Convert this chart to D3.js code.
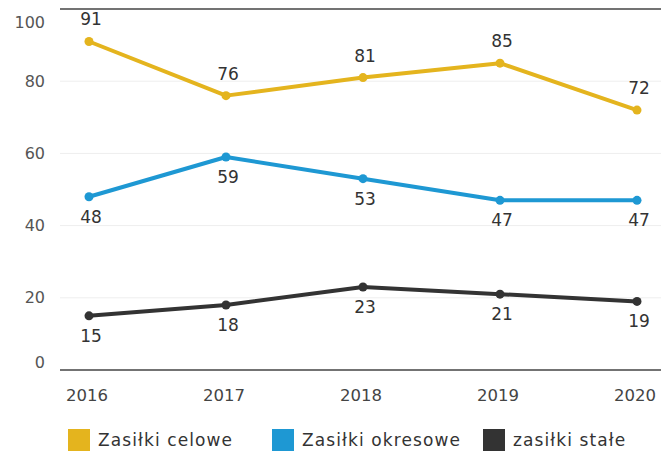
<!DOCTYPE html>
<html>
<head>
<meta charset="utf-8">
<script src="https://cdn.jsdelivr.net/npm/d3@7"></script>
<style>
  body { margin: 0; background: #fff; }
  text { font-family: "DejaVu Sans", sans-serif; }
</style>
</head>
<body>
<div class="chart"></div>
<script>
var years = ["2016", "2017", "2018", "2019", "2020"];
var celowe = [91, 76, 81, 85, 72];
var okresowe = [48, 59, 53, 47, 47];
var stale = [15, 18, 23, 21, 19];
var yTicks = [0, 20, 40, 60, 80, 100];

var seriesNames = ["Zasiłki celowe", "Zasiłki okresowe", "zasiłki stałe"];
var colors = ["#e4b41e", "#1e98d3", "#333333"];

var svgWidth = 661;
var svgHeight = 452;

var svg = d3.select(".chart")
  .append("svg")
  .attr("width", svgWidth)
  .attr("height", svgHeight);

var x = d3.scalePoint()
  .domain(years)
  .range([89, 637]);

var y = d3.scaleLinear()
  .domain([0, 100])
  .range([370, 9]);

// gridlines
svg.append("g")
  .selectAll("line")
  .data(yTicks)
  .enter().append("line")
  .attr("x1", 60)
  .attr("x2", svgWidth)
  .attr("y1", d => y(d))
  .attr("y2", d => y(d))
  .attr("stroke", d => (d === 0 || d === 100) ? "#444" : "#eeeeee")
  .attr("stroke-width", d => (d === 0 || d === 100) ? 1.5 : 1);

// y tick labels
svg.append("g")
  .selectAll("text")
  .data(yTicks)
  .enter().append("text")
  .attr("x", 45)
  .attr("y", d => y(d) + (d === 100 ? 13 : d === 0 ? -8 : 0))
  .attr("dy", "0.35em")
  .attr("text-anchor", "end")
  .attr("font-size", 16)
  .attr("fill", "#555")
  .text(d => d);

// x tick labels
svg.append("g")
  .selectAll("text")
  .data(years)
  .enter().append("text")
  .attr("x", d => x(d) - 2)
  .attr("y", 395)
  .attr("dy", "0.35em")
  .attr("text-anchor", "middle")
  .attr("font-size", 16.5)
  .attr("fill", "#444")
  .text(d => d);

var series = [
  { values: celowe, color: colors[0], above: [true, true, true, true, true] },
  { values: okresowe, color: colors[1], above: [false, false, false, false, false] },
  { values: stale, color: colors[2], above: [false, false, false, false, false] }
];

var line = d3.line()
  .x((d, i) => x(years[i]))
  .y(d => y(d));

series.forEach(function(s) {
  svg.append("path")
    .attr("d", line(s.values))
    .attr("fill", "none")
    .attr("stroke", s.color)
    .attr("stroke-width", 4)
    .attr("stroke-linejoin", "round");

  svg.append("g")
    .selectAll("circle")
    .data(s.values)
    .enter().append("circle")
    .attr("cx", (d, i) => x(years[i]))
    .attr("cy", d => y(d))
    .attr("r", 4.5)
    .attr("fill", s.color);

  svg.append("g")
    .selectAll("text")
    .data(s.values)
    .enter().append("text")
    .attr("x", (d, i) => x(years[i]) + 2)
    .attr("y", (d, i) => y(d) + (s.above[i] ? -22 : 20))
    .attr("dy", "0.35em")
    .attr("text-anchor", "middle")
    .attr("font-size", 17)
    .attr("fill", "#333")
    .text(d => d);
});

// legend
var legendX = [68, 272, 483];
var legend = svg.append("g")
  .selectAll("g")
  .data(seriesNames)
  .enter().append("g")
  .attr("transform", (d, i) => "translate(" + legendX[i] + ",429)");

legend.append("rect")
  .attr("width", 22)
  .attr("height", 22)
  .attr("fill", (d, i) => colors[i]);

legend.append("text")
  .attr("x", 30)
  .attr("y", 11)
  .attr("dy", "0.35em")
  .attr("font-size", 17)
  .attr("letter-spacing", 1.1)
  .attr("fill", "#333")
  .text(d => d);
</script>
</body>
</html>
